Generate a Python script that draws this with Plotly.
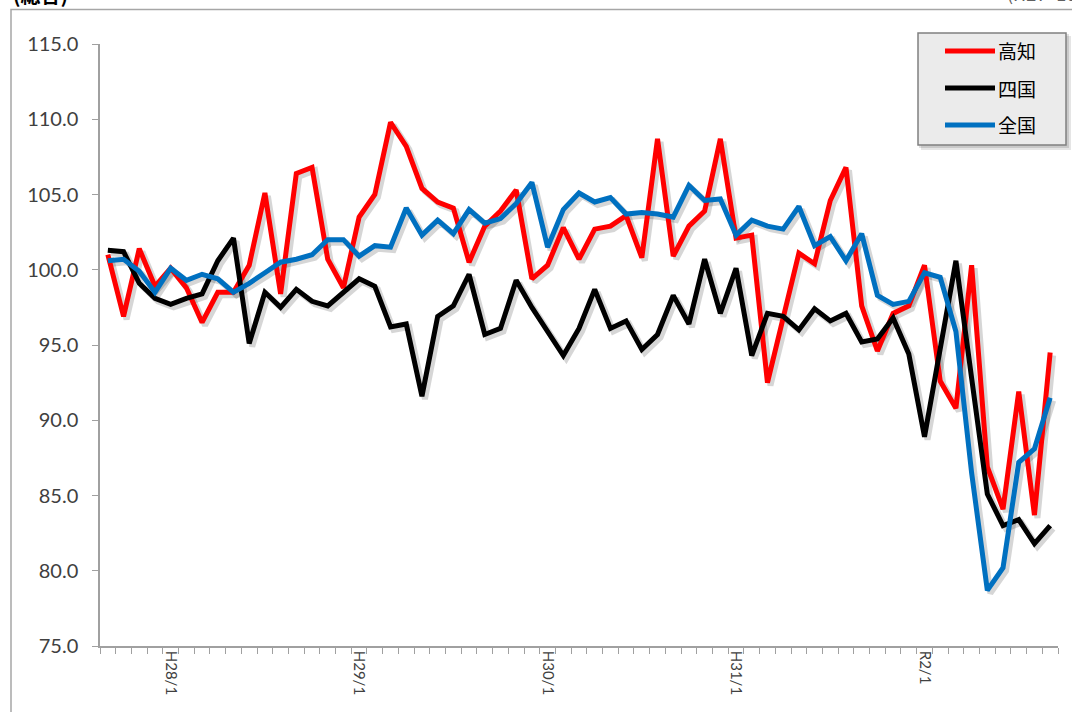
import plotly.graph_objects as go

# monthly index, H27/9 (2015/9) .. R2/9 (2020/9)
months = []
for y in range(2015, 2021):
    for m in range(1, 13):
        if (y == 2015 and m < 9) or (y == 2020 and m > 9):
            continue
        months.append(f"{y}/{m}")

jan_labels = {"2016/1": "H28/1", "2017/1": "H29/1", "2018/1": "H30/1",
              "2019/1": "H31/1", "2020/1": "R2/1"}

kochi = [101.0, 96.9, 101.4, 98.9, 100.1, 98.8, 96.5, 98.5, 98.5, 100.3,
         105.1, 98.4, 106.4, 106.8, 100.7, 98.8, 103.5, 105.0, 109.8, 108.2,
         105.4, 104.5, 104.1, 100.5, 102.9, 103.9, 105.3, 99.4, 100.3, 102.8,
         100.7, 102.7, 102.9, 103.6, 100.8, 108.7, 100.9, 102.9, 103.9, 108.7,
         102.1, 102.3, 92.5, 96.8, 101.1, 100.4, 104.6, 106.8, 97.6, 94.6,
         97.1, 97.6, 100.3, 92.6, 90.8, 100.3, 86.9, 84.1, 91.9, 83.7, 94.5]

shikoku = [101.3, 101.2, 99.1, 98.1, 97.7, 98.1, 98.4, 100.6, 102.1, 95.1,
           98.5, 97.5, 98.7, 97.9, 97.6, 98.5, 99.4, 98.9, 96.2, 96.4,
           91.6, 96.9, 97.6, 99.7, 95.7, 96.1, 99.3, 97.5, 95.9, 94.3,
           96.1, 98.7, 96.1, 96.6, 94.7, 95.7, 98.3, 96.4, 100.7, 97.1,
           100.1, 94.3, 97.1, 96.9, 96.0, 97.4, 96.6, 97.1, 95.2, 95.4,
           96.8, 94.4, 88.9, 94.8, 100.6, 92.8, 85.1, 83.0, 83.4, 81.8, 83.0]

zenkoku = [100.6, 100.7, 99.9, 98.5, 100.1, 99.3, 99.7, 99.4, 98.5, 99.1,
           99.8, 100.5, 100.7, 101.0, 102.0, 102.0, 100.9, 101.6, 101.5, 104.1,
           102.3, 103.3, 102.4, 104.0, 103.1, 103.4, 104.4, 105.8, 101.5, 104.0,
           105.1, 104.5, 104.8, 103.7, 103.8, 103.7, 103.5, 105.6, 104.6, 104.7,
           102.3, 103.3, 102.9, 102.7, 104.2, 101.6, 102.2, 100.6, 102.4, 98.3,
           97.7, 97.9, 99.8, 99.5, 95.9, 86.5, 78.7, 80.2, 87.2, 88.1, 91.5]

series = [("高知", kochi, "#ff0000"),
          ("四国", shikoku, "#000000"),
          ("全国", zenkoku, "#0070c0")]

W, H = 1072, 712
ml, mr, mt, mb = 100, 11, 44, 63
pw, ph = W - ml - mr, H - mt - mb
dx, dy = 3 / pw, 3 / ph   # shadow offset


def px_x(X):
    return (X - ml) / pw


def px_y(Y):
    return (H - mb - Y) / ph


fig = go.Figure()

# soft drop shadows (drawn on a hidden, slightly shifted subplot)
for name, vals, col in series:
    fig.add_trace(go.Scatter(x=months, y=vals, mode="lines", xaxis="x", yaxis="y",
                             line=dict(color="rgba(0,0,0,0.16)", width=6),
                             showlegend=False, hoverinfo="skip"))

for name, vals, col in series:
    fig.add_trace(go.Scatter(x=months, y=vals, mode="lines", name=name,
                             xaxis="x2", yaxis="y2", showlegend=False,
                             line=dict(color=col, width=5)))

common_x = dict(type="category", categoryorder="array", categoryarray=months,
                range=[-0.5, len(months) - 0.5])

# legend box drawn by hand (Excel style: grey box, long line samples)
shapes = [
    dict(type="rect", xref="paper", yref="paper",
         x0=px_x(11), x1=px_x(1085), y0=px_y(9.5), y1=px_y(730),
         line=dict(color="#a6a6a6", width=1.5), layer="below"),
    dict(type="rect", xref="paper", yref="paper",
         x0=px_x(921), x1=px_x(1071), y0=px_y(36), y1=px_y(150),
         line=dict(width=0), fillcolor="rgba(0,0,0,0.10)", layer="above"),
    dict(type="rect", xref="paper", yref="paper",
         x0=px_x(919), x1=px_x(1069), y0=px_y(34), y1=px_y(148),
         line=dict(width=0), fillcolor="rgba(0,0,0,0.12)", layer="above"),
    dict(type="rect", xref="paper", yref="paper",
         x0=px_x(918), x1=px_x(1066), y0=px_y(33), y1=px_y(145),
         line=dict(color="#808080", width=1.5), fillcolor="#ebebeb", layer="above"),
]
annotations = [
    dict(text="<b>(総合)</b>", xref="paper", yref="paper", x=px_x(11), y=px_y(11),
         xanchor="left", yanchor="bottom", showarrow=False,
         font=dict(size=20, color="#000000", family="Noto Sans CJK JP")),
    dict(text="(H27=100)", xref="paper", yref="paper", x=px_x(1005), y=px_y(8),
         xanchor="left", yanchor="bottom", showarrow=False,
         font=dict(size=18, color="#606060", family="Noto Sans CJK JP")),
]
for k, (name, vals, col) in enumerate(series):
    ly = 51 + 37 * k
    shapes.append(dict(type="line", xref="paper", yref="paper",
                       x0=px_x(945), x1=px_x(995), y0=px_y(ly), y1=px_y(ly),
                       line=dict(color=col, width=5), layer="above"))
    annotations.append(dict(text=name, xref="paper", yref="paper",
                            x=px_x(996), y=px_y(ly), xanchor="left", yanchor="middle",
                            showarrow=False,
                            font=dict(size=19, color="#000000",
                                      family="Noto Sans CJK JP")))

fig.update_layout(
    width=W, height=H,
    margin=dict(l=ml, r=mr, t=mt, b=mb),
    paper_bgcolor="white",
    plot_bgcolor="rgba(0,0,0,0)",
    showlegend=False,
    font=dict(family="Lato, Noto Sans CJK JP", color="#404040"),
    xaxis=dict(common_x, domain=[dx, 1], anchor="y", visible=False),
    yaxis=dict(domain=[0, 1 - dy], anchor="x", range=[75, 115], visible=False),
    xaxis2=dict(common_x, domain=[0, 1 - dx], anchor="y2",
                tickson="boundaries", ticks="outside", ticklen=6,
                tickcolor="#a0a0a0", tickwidth=1.2,
                showline=True, linecolor="#a0a0a0", linewidth=1.5,
                tickmode="array", tickvals=months,
                ticktext=[jan_labels.get(m, "") for m in months],
                tickangle=90, tickfont=dict(size=15, color="#404040"),
                showgrid=False, zeroline=False),
    yaxis2=dict(domain=[dy, 1], anchor="x2", range=[75, 115],
                tick0=75, dtick=5, tickformat=".1f",
                ticks="outside", ticklen=6, tickcolor="#a0a0a0", tickwidth=1.2,
                showline=True, linecolor="#a0a0a0", linewidth=1.5,
                tickfont=dict(size=20, color="#404040"),
                ticklabelstandoff=10,
                showgrid=False, zeroline=False),
    shapes=shapes,
    annotations=annotations,
)

fig.write_html("out.html", config={"displayModeBar": False},
               post_script="document.body.style.margin='0';")
